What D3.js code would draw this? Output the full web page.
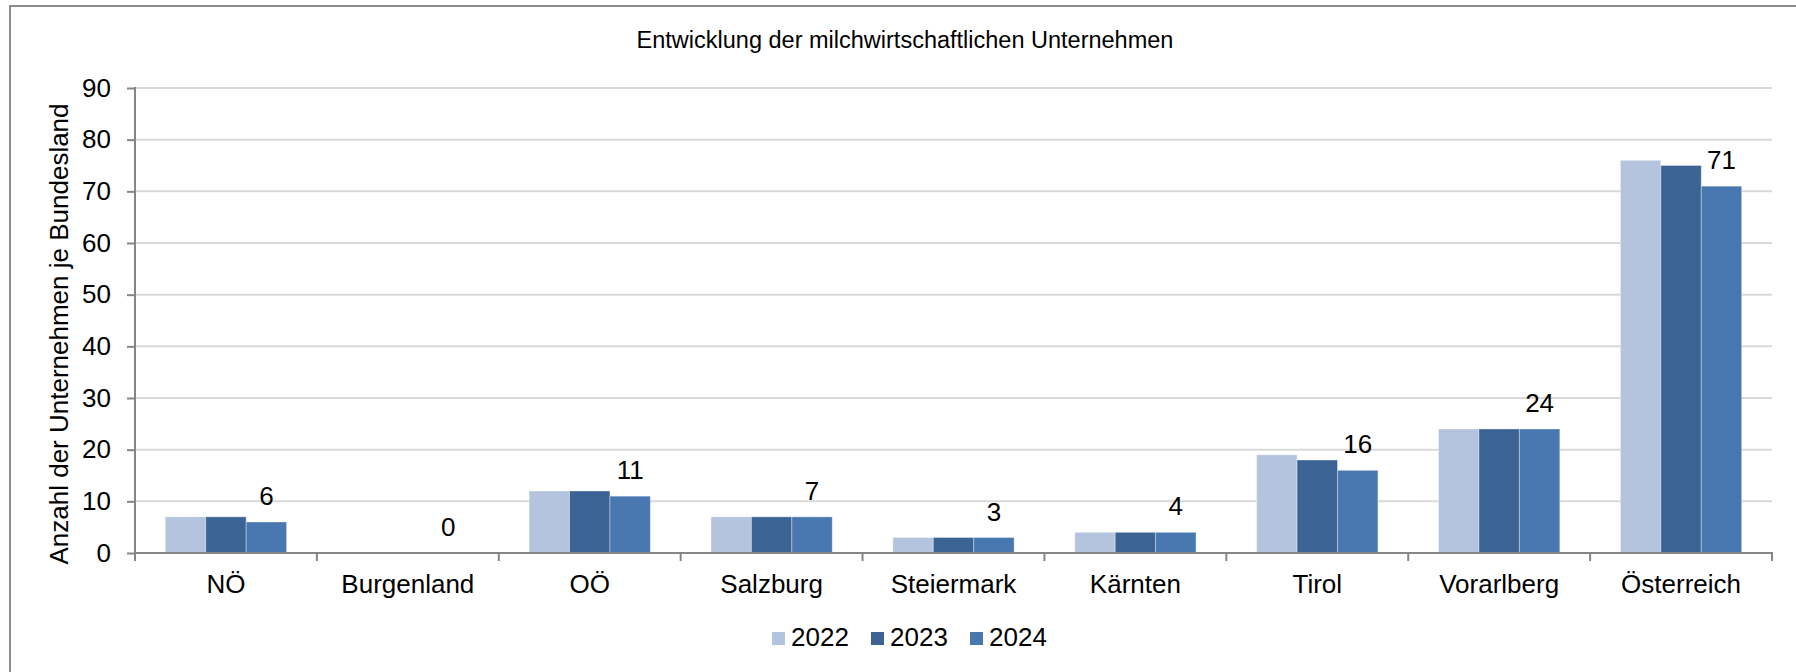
<!DOCTYPE html>
<html>
<head>
<meta charset="utf-8">
<script src="https://cdn.jsdelivr.net/npm/d3@7"></script>
<style>
  body { margin: 0; background: #fff; }
  text { font-family: "Liberation Sans", Arial, sans-serif; fill: #000; }
</style>
</head>
<body>
<div id="chart"></div>
<script>
var svgwidth = 1796;
var svgheight = 672;

// data
var categories = ["NÖ", "Burgenland", "OÖ", "Salzburg", "Steiermark", "Kärnten", "Tirol", "Vorarlberg", "Österreich"];
var years = ["2022", "2023", "2024"];
var values2022 = [7, 0, 12, 7, 3, 4, 19, 24, 76];
var values2023 = [7, 0, 12, 7, 3, 4, 18, 24, 75];
var values2024 = [6, 0, 11, 7, 3, 4, 16, 24, 71];
var yTickValues = [0, 10, 20, 30, 40, 50, 60, 70, 80, 90];
var colors = ["#b4c4de", "#3b6494", "#4977b0"];

var series = [values2022, values2023, values2024];
var rows = [];
categories.forEach(function(c, i) {
    years.forEach(function(yr, j) {
        rows.push({cat: c, year: yr, value: series[j][i]});
    });
});

var svg = d3.select("#chart")
            .append("svg")
            .attr("width", svgwidth)
            .attr("height", svgheight);

svg.append("rect")
    .attr("width", svgwidth).attr("height", svgheight)
    .attr("fill", "#fff");

// outer frame (cut off at right and bottom)
svg.append("rect")
    .attr("x", 10).attr("y", 6)
    .attr("width", svgwidth).attr("height", svgheight)
    .attr("fill", "none")
    .attr("stroke", "#8c8c8c")
    .attr("stroke-width", 2);

var plotLeft = 135, plotRight = 1772, plotTop = 88, plotBottom = 553;

var x0 = d3.scaleBand().domain(categories).range([plotLeft, plotRight]).padding(0);
var x1 = d3.scaleBand().domain(years).range([0, x0.bandwidth()])
            .paddingInner(0).paddingOuter(0.75);
var y = d3.scaleLinear().domain([0, 90]).range([plotBottom, plotTop]);
var color = d3.scaleOrdinal().domain(years).range(colors);

// title
svg.append("text")
    .attr("x", 905).attr("y", 48)
    .style("text-anchor", "middle")
    .style("font-size", "23.5px")
    .text("Entwicklung der milchwirtschaftlichen Unternehmen");

// gridlines
svg.append("g")
    .selectAll("line")
    .data(yTickValues.filter(function(d) { return d > 0; }))
    .join("line")
    .attr("x1", plotLeft).attr("x2", plotRight)
    .attr("y1", function(d) { return y(d); })
    .attr("y2", function(d) { return y(d); })
    .attr("stroke", "#d9d9d9")
    .attr("stroke-width", 2);

// bars
svg.append("g")
    .selectAll("rect")
    .data(rows)
    .join("rect")
    .attr("x", function(d) { return x0(d.cat) + x1(d.year); })
    .attr("y", function(d) { return y(d.value); })
    .attr("width", x1.bandwidth())
    .attr("height", function(d) { return y(0) - y(d.value); })
    .attr("fill", function(d) { return color(d.year); })
    .attr("stroke", "rgba(255,255,255,0.35)")
    .attr("stroke-width", 1);

// data labels on 2024
svg.append("g")
    .selectAll("text")
    .data(rows.filter(function(d) { return d.year === "2024"; }))
    .join("text")
    .attr("x", function(d) { return x0(d.cat) + x1(d.year) + x1.bandwidth() / 2; })
    .attr("y", function(d) { return y(d.value) - 17; })
    .style("text-anchor", "middle")
    .style("font-size", "26px")
    .text(function(d) { return d.value; });

// y axis
var yaxis = d3.axisLeft(y).tickValues(yTickValues).tickSize(8).tickPadding(16);
var gy = svg.append("g")
    .attr("transform", "translate(" + plotLeft + ",0)")
    .call(yaxis);
gy.select(".domain").remove();
gy.selectAll(".tick line").attr("stroke", "#868686").attr("stroke-width", 2);
gy.selectAll(".tick text")
    .style("font-size", "26px")
    .style("font-family", "'Liberation Sans', Arial, sans-serif")
    .attr("fill", "#000");
gy.append("line")
    .attr("x1", 0).attr("x2", 0)
    .attr("y1", plotTop - 1).attr("y2", plotBottom)
    .attr("stroke", "#868686").attr("stroke-width", 2);

// x axis
var xaxis = d3.axisBottom(x0).tickSizeInner(0).tickSizeOuter(0).tickPadding(22);
var gx = svg.append("g")
    .attr("transform", "translate(0," + plotBottom + ")")
    .call(xaxis);
gx.select(".domain").remove();
gx.selectAll(".tick text")
    .style("font-size", "26px")
    .style("font-family", "'Liberation Sans', Arial, sans-serif")
    .attr("fill", "#000");
gx.append("line")
    .attr("x1", plotLeft - 1).attr("x2", plotRight + 1)
    .attr("y1", 0).attr("y2", 0)
    .attr("stroke", "#868686").attr("stroke-width", 2);
gx.selectAll(".bound")
    .data(categories.map(function(c) { return x0(c); }).concat([plotRight]))
    .join("line")
    .attr("class", "bound")
    .attr("x1", function(d) { return d; }).attr("x2", function(d) { return d; })
    .attr("y1", 0).attr("y2", 8)
    .attr("stroke", "#868686").attr("stroke-width", 2);

// y axis title
svg.append("text")
    .attr("transform", "translate(68,334) rotate(-90)")
    .style("text-anchor", "middle")
    .style("font-size", "26px")
    .text("Anzahl der Unternehmen je Bundesland");

// legend
var legend = svg.append("g").attr("transform", "translate(772,632)");
var item = legend.selectAll("g")
    .data(years)
    .join("g")
    .attr("transform", function(d, i) { return "translate(" + (i * 99) + ",0)"; });
item.append("rect")
    .attr("width", 13).attr("height", 13)
    .attr("fill", function(d) { return color(d); });
item.append("text")
    .attr("x", 19).attr("y", 14)
    .style("font-size", "26px")
    .text(function(d) { return d; });
</script>
</body>
</html>
